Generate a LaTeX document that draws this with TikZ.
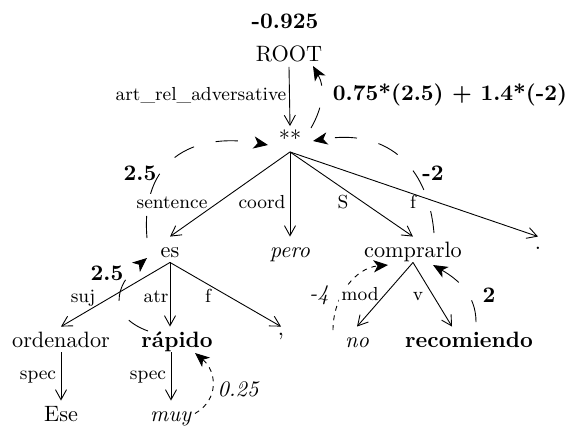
\documentclass[tikz,border=0pt]{standalone}
\usetikzlibrary{arrows.meta,calc}

\begin{document}
\begin{tikzpicture}[x=0.45pt, y=-0.45pt,
  word/.style={inner sep=0pt, text height=9pt, text depth=2.25pt},
  lbl/.style={font=\fontsize{8.5}{10}\selectfont, fill=white, inner sep=1pt,
              text height=5.5pt, text depth=0pt},
  val/.style={font=\bfseries, inner sep=0pt},
  ival/.style={font=\itshape, inner sep=0pt},
  dep/.style={-{Straight Barb[length=4.5pt,width=5pt]}},
  score/.style={-{Stealth[length=6.5pt,width=5.5pt,inset=1.8pt]}, dash pattern=on 10pt off 10pt},
  weak/.style={-{Stealth[length=6.5pt,width=5.5pt,inset=1.8pt]}, dash pattern=on 2.2pt off 2.2pt},
]
\useasboundingbox (0,0) rectangle (574,428);

\node[word] (root) at (289,54) {ROOT};
\node[word] (star) at (290,139) {**};
\node[word] (es) at (170,249.5) {es};
\node[word] (pero) at (290,249.5) {\textit{pero}};
\node[word] (comp) at (413,249.5) {comprarlo};
\node[word] (dot) at (538,249.5) {\raisebox{3.6pt}{.}};
\node[word] (orde) at (61,339.5) {ordenador};
\node[word] (rapido) at (177,339.5) {\textbf{rápido}};
\node[word] (comma) at (281,339.5) {\raisebox{5pt}{,}};
\node[word] (no) at (357,339.5) {\textit{no}};
\node[word] (recom) at (469,339.5) {\textbf{recomiendo}};
\node[word] (ese) at (61,413.5) {Ese};
\node[word] (muy) at (171,413.5) {\textit{muy}};

\draw[score] ($(star)+(21,-11)$) to[out=60,in=-60] ($(root)+(24,12)$);
\draw[score] ($(es)+(-23,-11.5)$) to[out=95,in=170,looseness=1.3] ($(star)+(-22,6)$);
\draw[score] ($(comp)+(21,-16.5)$) to[out=95,in=10,looseness=1.2] ($(star)+(23,2)$);
\draw[score] ($(rapido)+(-29,-8.5)$) to[out=160,in=-140,looseness=1.5] ($(es)+(-23,8.5)$);
\draw[score] ($(recom)+(7,-17.5)$) to[out=90,in=-30] ($(comp)+(20,15.5)$);
\draw[weak] ($(no)+(-24,-9.5)$) to[out=90,in=185] ($(comp)+(-25,15.5)$);
\draw[weak] ($(muy)+(24,0)$) to[out=30,in=-40,looseness=1.2] ($(rapido)+(18,13.5)$);

\node[lbl] (l-art) at (201,94) {art\_rel\_adversative};
\node[lbl] (l-sent) at (172,202) {sentence};
\node[lbl] (l-coord) at (262,202) {coord};
\node[lbl] (l-s) at (343,202) {S};
\node[lbl] (l-f1) at (413,202) {f};
\node[lbl] (l-suj) at (83,296) {suj};
\node[lbl] (l-atr) at (156,296) {atr};
\node[lbl] (l-f2) at (208,296) {f};
\node[lbl] (l-mod) at (360,294) {mod};
\node[lbl] (l-v) at (418,294) {v};
\node[lbl] (l-spec1) at (38,373) {spec};
\node[lbl] (l-spec2) at (148,373) {spec};

\draw[dep] (root.south) -- (star.north);
\foreach \a/\b in {star/es, star/pero, star/comp, star/dot, es/orde, es/comma, comp/no, orde/ese} {
  \draw[dep] (\a.south) -- (\b.north);
}
\draw[dep] (es.south) -- (es.south |- rapido.north);
\draw[dep] (comp.south) -- ($(recom.north)+(-17,0)$);
\draw[dep] (muy.north |- rapido.south) -- (muy.north);

\node[val] (s-root) at (285,21) {-0.925};
\node[val] (s-top) at (450,95) {0.75*(2.5) + 1.4*(-2)};
\node[val] (s-sent) at (140,173.5) {2.5};
\node[val] (s-f) at (433,173.5) {-2};
\node[val] (s-es) at (107,273.5) {2.5};
\node[val] (s-rec) at (489,295) {2};
\node[ival] (s-no) at (319,295) {-4};
\node[ival] (s-muy) at (238,389) {0.25};

\end{tikzpicture}
\end{document}
